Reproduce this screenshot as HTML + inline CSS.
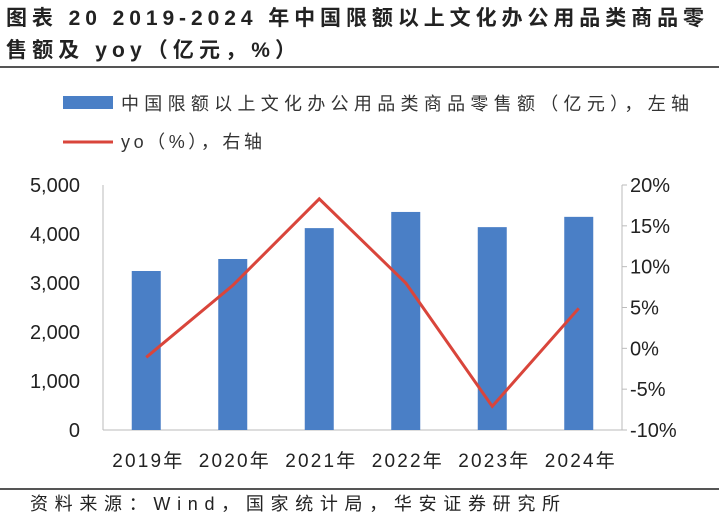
<!DOCTYPE html>
<html><head><meta charset="utf-8"><style>
body{margin:0;background:#fff;width:719px;height:529px;overflow:hidden;font-family:"Liberation Sans","Noto Sans CJK SC",sans-serif;}
</style></head><body>
<svg id="c" width="719" height="529" style="position:absolute;left:0;top:0" font-family="Liberation Sans, Noto Sans CJK SC, sans-serif">
<text x="6" y="25" font-size="21" font-weight="bold" fill="#222" textLength="698" lengthAdjust="spacing">图表 20 2019-2024 年中国限额以上文化办公用品类商品零</text>
<text x="6" y="57" font-size="21" font-weight="bold" fill="#222" textLength="290" lengthAdjust="spacing">售额及 yoy（亿元，%）</text>
<line x1="0" y1="67" x2="719" y2="67" stroke="#555" stroke-width="2"/>
<rect x="63" y="96" width="50" height="13" fill="#4a7fc6"/>
<text x="121" y="110" font-size="18" fill="#333" textLength="568" lengthAdjust="spacing">中国限额以上文化办公用品类商品零售额（亿元），左轴</text>
<line x1="63" y1="142" x2="113" y2="142" stroke="#d9453b" stroke-width="3"/>
<text x="121" y="148" font-size="18" fill="#333" textLength="141" lengthAdjust="spacing">yo（%），右轴</text>
<g id="g"></g>
<line x1="0" y1="489" x2="719" y2="489" stroke="#555" stroke-width="2"/>
<text x="30" y="510" font-size="18" fill="#222" textLength="530" lengthAdjust="spacing">资料来源：Wind，国家统计局，华安证券研究所</text>
</svg>
<script>
const categories=["2019年","2020年","2021年","2022年","2023年","2024年"];
const sales=[3245,3490,4120,4450,4140,4350];
const yoy=[-1.1,7.7,18.3,8.0,-7.1,4.9];
const leftTicks=[0,1000,2000,3000,4000,5000];
const rightTicks=[-10,-5,0,5,10,15,20];
const NS="http://www.w3.org/2000/svg";
const g=document.getElementById('g');
const L=103,R=622,T=185,B=430;
const yL=v=>B-(v/5000)*(B-T);
const yR=v=>B-((v+10)/30)*(B-T);
const bw=(R-L)/categories.length;
const xC=i=>L+bw*(i+0.5);
function mk(tag,attrs,name,txt){const e=document.createElementNS(NS,tag);for(const k in attrs)e.setAttribute(k,attrs[k]);


if(txt!==undefined)e.textContent=txt;g.appendChild(e);return e;}
mk('line',{x1:L,y1:T,x2:L,y2:B,stroke:'#bbb'},'left-axis-line');
mk('line',{x1:R,y1:T,x2:R,y2:B,stroke:'#bbb'},'right-axis-line');
mk('line',{x1:L,y1:B,x2:R,y2:B,stroke:'#bbb'},'x-axis-line');
leftTicks.forEach(v=>{mk('text',{x:80,y:yL(v)+7,'font-size':20,'text-anchor':'end',fill:'#222'},'left-tick-label',v.toLocaleString('en-US'));});
rightTicks.forEach(v=>{mk('line',{x1:R,y1:yR(v),x2:R+5,y2:yR(v),stroke:'#bbb'},'right-tick');
mk('text',{x:630,y:yR(v)+7,'font-size':20,fill:'#222'},'right-tick-label',v+'%');});
categories.forEach((c,i)=>{
mk('rect',{x:xC(i)-14.5,y:yL(sales[i]),width:29,height:B-yL(sales[i]),fill:'#4a7fc6'},'bar-'+c.slice(0,4));
mk('text',{x:xC(i)-34,y:467,'font-size':19,fill:'#222',textLength:70,lengthAdjust:'spacing'},'x-tick-label',c);});
mk('polyline',{points:yoy.map((v,i)=>xC(i)+','+yR(v)).join(' '),fill:'none',stroke:'#d9453b','stroke-width':3},'yoy-line');
</script>
</body></html>
